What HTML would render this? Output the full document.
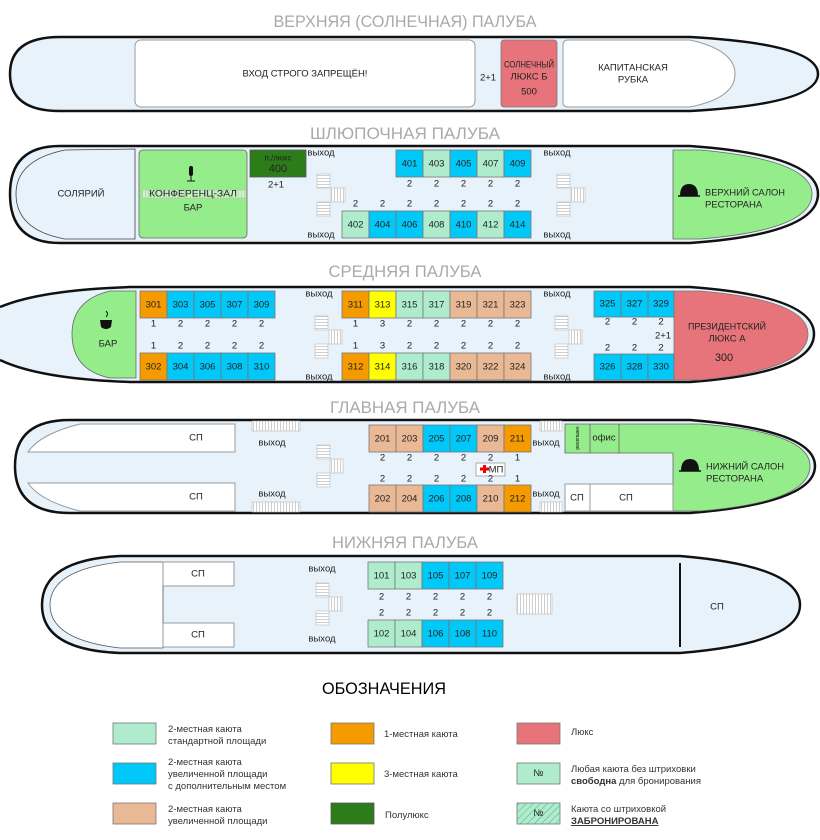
<!DOCTYPE html>
<html><head><meta charset="utf-8"><style>
body{margin:0;background:#fff;}
svg{display:block;font-family:"Liberation Sans Narrow","Liberation Sans",sans-serif;}
.t{font-size:17px;fill:#aaa;text-anchor:middle;}
.c{font-size:9.5px;text-anchor:middle;dominant-baseline:central;fill:#222;}
.n{font-size:9.5px;text-anchor:middle;dominant-baseline:central;fill:#222;}
.l{font-size:9.5px;fill:#333;}
.hull{fill:#e8f2fb;stroke:#111;stroke-width:2.5;}
.w{fill:#fff;stroke:#999;stroke-width:1;}
.m{fill:#aeeccd;stroke:#777;stroke-width:.8;}
.b{fill:#00c8f8;stroke:#777;stroke-width:.8;}
.o{fill:#f59b00;stroke:#777;stroke-width:.8;}
.y{fill:#ffff00;stroke:#777;stroke-width:.8;}
.k{fill:#e9b996;stroke:#777;stroke-width:.8;}
.g{fill:#95ec8a;stroke:#666;stroke-width:.8;}
.r{fill:#e7747a;stroke:#777;stroke-width:.8;}
.dg{fill:#2c7d1a;stroke:#555;stroke-width:.8;}
.sh{fill:url(#sh);stroke:#bbb;stroke-width:.6;}
.sv{fill:url(#sv);stroke:#bbb;stroke-width:.6;}
</style></head><body>
<svg width="820" height="840" viewBox="0 0 820 840">
<defs>
<pattern id="sh" width="4" height="3" patternUnits="userSpaceOnUse"><rect width="4" height="3" fill="#fff"/><line x1="0" y1="1.5" x2="4" y2="1.5" stroke="#bbb" stroke-width=".7"/></pattern>
<pattern id="sv" width="3" height="4" patternUnits="userSpaceOnUse"><rect width="3" height="4" fill="#fff"/><line x1="1.5" y1="0" x2="1.5" y2="4" stroke="#bbb" stroke-width=".7"/></pattern>
<pattern id="hatch" width="5" height="5" patternUnits="userSpaceOnUse" patternTransform="rotate(45)"><rect width="5" height="5" fill="#aeeccd"/><line x1="0" y1="0" x2="0" y2="5" stroke="#5a8" stroke-width="1"/></pattern>
</defs>

<!-- DECK 1 -->
<text class="t" x="405" y="27" textLength="263" lengthAdjust="spacingAndGlyphs">ВЕРХНЯЯ (СОЛНЕЧНАЯ) ПАЛУБА</text>
<path class="hull" d="M60 37 L690 37 Q818 44 818 74 Q818 104 690 111 L60 111 Q10 111 10 74 Q10 37 60 37 Z"/>
<rect class="w" x="135" y="40" width="340" height="67" rx="6"/>
<text class="c" x="305" y="74">ВХОД СТРОГО ЗАПРЕЩЁН!</text>
<text class="c" x="488" y="78">2+1</text>
<rect class="r" x="501" y="40" width="56" height="67" rx="3"/>
<text class="c" x="529" y="65" textLength="50" lengthAdjust="spacingAndGlyphs">СОЛНЕЧНЫЙ</text><text class="c" x="529" y="77">ЛЮКС Б</text><text class="c" x="529" y="92">500</text>
<path class="w" d="M568 40 L690 40 Q735 50 735 74 Q735 98 690 107 L568 107 Q563 107 563 102 L563 45 Q563 40 568 40 Z"/>
<text class="c" x="633" y="68">КАПИТАНСКАЯ</text><text class="c" x="633" y="80">РУБКА</text>

<!-- DECK 2 -->
<text class="t" x="405" y="139" textLength="190" lengthAdjust="spacingAndGlyphs">ШЛЮПОЧНАЯ ПАЛУБА</text>
<path class="hull" d="M60 146 L690 146 Q818 155 818 194 Q818 234 690 243 L60 243 Q10 243 10 194 Q10 146 60 146 Z"/>
<path d="M135 149 L65 150 Q16 160 16 194 Q16 230 65 239 L135 239 Z" fill="#e8f2fb" stroke="#444" stroke-width=".8"/>
<text class="c" x="81" y="194">СОЛЯРИЙ</text>
<rect class="g" x="139" y="150" width="108" height="88" rx="4" stroke="#444"/>
<rect x="189" y="166" width="4" height="10" rx="2" fill="#111"/><line x1="191" y1="176" x2="191" y2="181" stroke="#111"/><line x1="187" y1="181" x2="195" y2="181" stroke="#111"/>
<rect class="sv" x="142" y="190" width="104" height="8" style="fill-opacity:.5"/>
<text class="c" x="193" y="194" textLength="88" lengthAdjust="spacingAndGlyphs">КОНФЕРЕНЦ-ЗАЛ</text><text class="c" x="193" y="208">БАР</text>
<rect class="dg" x="250" y="150" width="56" height="27"/>
<text class="c" x="278" y="158" style="font-size:8px">п./люкс</text><text class="c" x="278" y="169" style="font-size:11px">400</text>
<text class="n" x="276" y="185">2+1</text>
<text class="n" x="321" y="153">выход</text><text class="n" x="321" y="235">выход</text>
<text class="n" x="557" y="153">выход</text><text class="n" x="557" y="235">выход</text>
<rect class="sh" x="317" y="174" width="13" height="14"/><rect class="sv" x="331" y="188" width="14" height="14"/><rect class="sh" x="317" y="202" width="13" height="14"/>
<rect class="sh" x="557" y="174" width="13" height="14"/><rect class="sv" x="571" y="188" width="14" height="14"/><rect class="sh" x="557" y="202" width="13" height="14"/>
<rect class="b" x="396" y="150" width="27" height="27"/><rect class="m" x="423" y="150" width="27" height="27"/><rect class="b" x="450" y="150" width="27" height="27"/><rect class="m" x="477" y="150" width="27" height="27"/><rect class="b" x="504" y="150" width="27" height="27"/>
<text class="c" x="409.5" y="164">401</text><text class="c" x="436.5" y="164">403</text><text class="c" x="463.5" y="164">405</text><text class="c" x="490.5" y="164">407</text><text class="c" x="517.5" y="164">409</text>
<text class="n" x="409.5" y="184">2</text><text class="n" x="436.5" y="184">2</text><text class="n" x="463.5" y="184">2</text><text class="n" x="490.5" y="184">2</text><text class="n" x="517.5" y="184">2</text>
<rect class="m" x="342" y="211" width="27" height="27"/><rect class="b" x="369" y="211" width="27" height="27"/><rect class="b" x="396" y="211" width="27" height="27"/><rect class="m" x="423" y="211" width="27" height="27"/><rect class="b" x="450" y="211" width="27" height="27"/><rect class="m" x="477" y="211" width="27" height="27"/><rect class="b" x="504" y="211" width="27" height="27"/>
<text class="c" x="355.5" y="225">402</text><text class="c" x="382.5" y="225">404</text><text class="c" x="409.5" y="225">406</text><text class="c" x="436.5" y="225">408</text><text class="c" x="463.5" y="225">410</text><text class="c" x="490.5" y="225">412</text><text class="c" x="517.5" y="225">414</text>
<text class="n" x="355.5" y="204">2</text><text class="n" x="382.5" y="204">2</text><text class="n" x="409.5" y="204">2</text><text class="n" x="436.5" y="204">2</text><text class="n" x="463.5" y="204">2</text><text class="n" x="490.5" y="204">2</text><text class="n" x="517.5" y="204">2</text>
<path class="g" d="M673 150 L700 150 Q812 160 812 194 Q812 230 700 239 L673 239 Z" stroke="#444"/>
<path d="M680 196 Q680 184 689 184 Q698 184 698 196 Z" fill="#111"/><line x1="678" y1="196" x2="700" y2="196" stroke="#111" stroke-width="1.5"/>
<text class="c" x="705" y="193" style="text-anchor:start" textLength="80" lengthAdjust="spacingAndGlyphs">ВЕРХНИЙ САЛОН</text><text class="c" x="705" y="205" style="text-anchor:start">РЕСТОРАНА</text>

<!-- DECK 3 -->
<text class="t" x="405" y="277" textLength="153" lengthAdjust="spacingAndGlyphs">СРЕДНЯЯ ПАЛУБА</text>
<path class="hull" d="M0 307 Q40 290 130 287 L690 287 Q814 296 814 334 Q814 373 690 382 L130 382 Q40 379 0 360"/>
<path class="g" d="M136 291 L110 291 Q72 300 72 334 Q72 370 110 378 L136 378 Z"/>
<path d="M100 320 L112 320 L111 327 Q106 331 101 327 Z" fill="#111"/><path d="M106 311 q3 3 0 6" stroke="#111" fill="none"/>
<text class="c" x="108" y="344">БАР</text>
<rect class="o" x="140" y="291" width="27" height="27"/><rect class="b" x="167" y="291" width="27" height="27"/><rect class="b" x="194" y="291" width="27" height="27"/><rect class="b" x="221" y="291" width="27" height="27"/><rect class="b" x="248" y="291" width="27" height="27"/>
<text class="c" x="153.5" y="305">301</text><text class="c" x="180.5" y="305">303</text><text class="c" x="207.5" y="305">305</text><text class="c" x="234.5" y="305">307</text><text class="c" x="261.5" y="305">309</text>
<text class="n" x="153.5" y="324">1</text><text class="n" x="180.5" y="324">2</text><text class="n" x="207.5" y="324">2</text><text class="n" x="234.5" y="324">2</text><text class="n" x="261.5" y="324">2</text>
<text class="n" x="153.5" y="346">1</text><text class="n" x="180.5" y="346">2</text><text class="n" x="207.5" y="346">2</text><text class="n" x="234.5" y="346">2</text><text class="n" x="261.5" y="346">2</text>
<rect class="o" x="140" y="353" width="27" height="27"/><rect class="b" x="167" y="353" width="27" height="27"/><rect class="b" x="194" y="353" width="27" height="27"/><rect class="b" x="221" y="353" width="27" height="27"/><rect class="b" x="248" y="353" width="27" height="27"/>
<text class="c" x="153.5" y="367">302</text><text class="c" x="180.5" y="367">304</text><text class="c" x="207.5" y="367">306</text><text class="c" x="234.5" y="367">308</text><text class="c" x="261.5" y="367">310</text>
<text class="n" x="319" y="294">выход</text><text class="n" x="319" y="377">выход</text>
<text class="n" x="557" y="294">выход</text><text class="n" x="557" y="377">выход</text>
<rect class="sh" x="315" y="316" width="13" height="14"/><rect class="sv" x="329" y="330" width="13" height="14"/><rect class="sh" x="315" y="344" width="13" height="14"/>
<rect class="sh" x="555" y="316" width="13" height="14"/><rect class="sv" x="569" y="330" width="13" height="14"/><rect class="sh" x="555" y="344" width="13" height="14"/>
<rect class="o" x="342" y="291" width="27" height="27"/><rect class="y" x="369" y="291" width="27" height="27"/><rect class="m" x="396" y="291" width="27" height="27"/><rect class="m" x="423" y="291" width="27" height="27"/><rect class="k" x="450" y="291" width="27" height="27"/><rect class="k" x="477" y="291" width="27" height="27"/><rect class="k" x="504" y="291" width="27" height="27"/>
<text class="c" x="355.5" y="305">311</text><text class="c" x="382.5" y="305">313</text><text class="c" x="409.5" y="305">315</text><text class="c" x="436.5" y="305">317</text><text class="c" x="463.5" y="305">319</text><text class="c" x="490.5" y="305">321</text><text class="c" x="517.5" y="305">323</text>
<text class="n" x="355.5" y="324">1</text><text class="n" x="382.5" y="324">3</text><text class="n" x="409.5" y="324">2</text><text class="n" x="436.5" y="324">2</text><text class="n" x="463.5" y="324">2</text><text class="n" x="490.5" y="324">2</text><text class="n" x="517.5" y="324">2</text>
<text class="n" x="355.5" y="346">1</text><text class="n" x="382.5" y="346">3</text><text class="n" x="409.5" y="346">2</text><text class="n" x="436.5" y="346">2</text><text class="n" x="463.5" y="346">2</text><text class="n" x="490.5" y="346">2</text><text class="n" x="517.5" y="346">2</text>
<rect class="o" x="342" y="353" width="27" height="27"/><rect class="y" x="369" y="353" width="27" height="27"/><rect class="m" x="396" y="353" width="27" height="27"/><rect class="m" x="423" y="353" width="27" height="27"/><rect class="k" x="450" y="353" width="27" height="27"/><rect class="k" x="477" y="353" width="27" height="27"/><rect class="k" x="504" y="353" width="27" height="27"/>
<text class="c" x="355.5" y="367">312</text><text class="c" x="382.5" y="367">314</text><text class="c" x="409.5" y="367">316</text><text class="c" x="436.5" y="367">318</text><text class="c" x="463.5" y="367">320</text><text class="c" x="490.5" y="367">322</text><text class="c" x="517.5" y="367">324</text>
<rect class="b" x="594" y="291" width="27" height="26"/><rect class="b" x="621" y="291" width="27" height="26"/><rect class="b" x="648" y="291" width="26" height="26"/>
<text class="c" x="607.5" y="304">325</text><text class="c" x="634.5" y="304">327</text><text class="c" x="661" y="304">329</text>
<text class="n" x="607.5" y="322">2</text><text class="n" x="634.5" y="322">2</text><text class="n" x="661" y="322">2</text>
<text class="n" x="663" y="336">2+1</text>
<text class="n" x="607.5" y="348">2</text><text class="n" x="634.5" y="348">2</text><text class="n" x="661" y="348">2</text>
<rect class="b" x="594" y="354" width="27" height="26"/><rect class="b" x="621" y="354" width="27" height="26"/><rect class="b" x="648" y="354" width="26" height="26"/>
<text class="c" x="607.5" y="367">326</text><text class="c" x="634.5" y="367">328</text><text class="c" x="661" y="367">330</text>
<path class="r" d="M674 291 L700 291 Q808 300 808 334 Q808 370 700 380 L674 380 Z"/>
<text class="c" x="727" y="327" textLength="78" lengthAdjust="spacingAndGlyphs">ПРЕЗИДЕНТСКИЙ</text><text class="c" x="727" y="339">ЛЮКС А</text><text class="c" x="724" y="358" style="font-size:11px">300</text>

<!-- DECK 4 -->
<text class="t" x="405" y="413" textLength="150" lengthAdjust="spacingAndGlyphs">ГЛАВНАЯ ПАЛУБА</text>
<path class="hull" d="M70 420 L690 420 Q815 430 815 466 Q815 503 690 513 L70 513 Q15 513 15 466 Q15 420 70 420 Z"/>
<path class="w" d="M235 424 L80 424 Q40 434 28 452 L235 452 Z"/>
<path class="w" d="M235 483 L28 483 Q40 501 80 511 L235 511 Z"/>
<text class="c" x="196" y="438">СП</text><text class="c" x="196" y="497">СП</text>
<rect class="sv" x="252" y="421" width="48" height="10"/><rect class="sv" x="252" y="502" width="48" height="10"/>
<rect class="sv" x="540" y="421" width="22" height="10"/><rect class="sv" x="540" y="502" width="22" height="10"/>
<text class="n" x="272" y="443">выход</text><text class="n" x="272" y="494">выход</text>
<text class="n" x="546" y="443">выход</text><text class="n" x="546" y="494">выход</text>
<rect class="sh" x="317" y="445" width="13" height="14"/><rect class="sv" x="330" y="459" width="13" height="14"/><rect class="sh" x="317" y="473" width="13" height="14"/>
<rect class="k" x="369" y="425" width="27" height="27"/><rect class="k" x="396" y="425" width="27" height="27"/><rect class="b" x="423" y="425" width="27" height="27"/><rect class="b" x="450" y="425" width="27" height="27"/><rect class="k" x="477" y="425" width="27" height="27"/><rect class="o" x="504" y="425" width="27" height="27"/>
<text class="c" x="382.5" y="439">201</text><text class="c" x="409.5" y="439">203</text><text class="c" x="436.5" y="439">205</text><text class="c" x="463.5" y="439">207</text><text class="c" x="490.5" y="439">209</text><text class="c" x="517.5" y="439">211</text>
<text class="n" x="382.5" y="458">2</text><text class="n" x="409.5" y="458">2</text><text class="n" x="436.5" y="458">2</text><text class="n" x="463.5" y="458">2</text><text class="n" x="490.5" y="458">2</text><text class="n" x="517.5" y="458">1</text>
<rect x="476" y="463" width="29" height="13" fill="#fff" stroke="#999" stroke-width=".8"/>
<path d="M480 467.5 h3 v-2.5 h3 v2.5 h3 v3 h-3 v2.5 h-3 v-2.5 h-3z" fill="#e00"/>
<text class="c" x="496" y="470">МП</text>
<text class="n" x="382.5" y="479">2</text><text class="n" x="409.5" y="479">2</text><text class="n" x="436.5" y="479">2</text><text class="n" x="463.5" y="479">2</text><text class="n" x="490.5" y="479">2</text><text class="n" x="517.5" y="479">1</text>
<rect class="k" x="369" y="485" width="27" height="27"/><rect class="k" x="396" y="485" width="27" height="27"/><rect class="b" x="423" y="485" width="27" height="27"/><rect class="b" x="450" y="485" width="27" height="27"/><rect class="k" x="477" y="485" width="27" height="27"/><rect class="o" x="504" y="485" width="27" height="27"/>
<text class="c" x="382.5" y="499">202</text><text class="c" x="409.5" y="499">204</text><text class="c" x="436.5" y="499">206</text><text class="c" x="463.5" y="499">208</text><text class="c" x="490.5" y="499">210</text><text class="c" x="517.5" y="499">212</text>
<path class="g" d="M565 424 L700 424 Q810 432 810 466 Q810 502 700 511 L673 511 L673 453 L565 453 Z"/>
<line x1="590" y1="424" x2="590" y2="453" stroke="#666" stroke-width=".8"/><line x1="619" y1="424" x2="619" y2="453" stroke="#666" stroke-width=".8"/>
<text x="578" y="438" transform="rotate(-90 578 438)" style="font-size:5px" text-anchor="middle" dominant-baseline="central">ресепшен</text>
<text class="c" x="604" y="438">офис</text>
<path d="M681 471 Q681 459 690 459 Q699 459 699 471 Z" fill="#111"/><line x1="679" y1="471" x2="701" y2="471" stroke="#111" stroke-width="1.5"/>
<text class="c" x="706" y="467" style="text-anchor:start" textLength="78" lengthAdjust="spacingAndGlyphs">НИЖНИЙ САЛОН</text><text class="c" x="706" y="479" style="text-anchor:start">РЕСТОРАНА</text>
<rect class="w" x="565" y="484" width="25" height="27"/><rect class="w" x="590" y="484" width="83" height="27"/>
<text class="c" x="577" y="498">СП</text><text class="c" x="626" y="498">СП</text>

<!-- DECK 5 -->
<text class="t" x="405" y="548" textLength="146" lengthAdjust="spacingAndGlyphs">НИЖНЯЯ ПАЛУБА</text>
<path class="hull" d="M120 556 L680 556 Q800 566 800 605 Q800 643 680 653 L120 653 Q42 650 42 605 Q42 560 120 556 Z"/>
<path d="M163 562 L120 562 Q50 570 50 605 Q50 640 120 648 L163 648 Z" fill="#fff" stroke="#555" stroke-width=".8"/>
<rect class="w" x="163" y="562" width="71" height="24"/><rect class="w" x="163" y="623" width="71" height="24"/>
<text class="c" x="198" y="574">СП</text><text class="c" x="198" y="635">СП</text>
<text class="n" x="322" y="569">выход</text><text class="n" x="322" y="639">выход</text>
<rect class="sh" x="316" y="583" width="13" height="14"/><rect class="sv" x="329" y="597" width="13" height="14"/><rect class="sh" x="316" y="611" width="13" height="14"/>
<rect class="sv" x="517" y="594" width="35" height="20"/>
<rect class="m" x="368" y="562" width="27" height="27"/><rect class="m" x="395" y="562" width="27" height="27"/><rect class="b" x="422" y="562" width="27" height="27"/><rect class="b" x="449" y="562" width="27" height="27"/><rect class="b" x="476" y="562" width="27" height="27"/>
<text class="c" x="381.5" y="576">101</text><text class="c" x="408.5" y="576">103</text><text class="c" x="435.5" y="576">105</text><text class="c" x="462.5" y="576">107</text><text class="c" x="489.5" y="576">109</text>
<text class="n" x="381.5" y="597">2</text><text class="n" x="408.5" y="597">2</text><text class="n" x="435.5" y="597">2</text><text class="n" x="462.5" y="597">2</text><text class="n" x="489.5" y="597">2</text>
<text class="n" x="381.5" y="613">2</text><text class="n" x="408.5" y="613">2</text><text class="n" x="435.5" y="613">2</text><text class="n" x="462.5" y="613">2</text><text class="n" x="489.5" y="613">2</text>
<rect class="m" x="368" y="620" width="27" height="27"/><rect class="m" x="395" y="620" width="27" height="27"/><rect class="b" x="422" y="620" width="27" height="27"/><rect class="b" x="449" y="620" width="27" height="27"/><rect class="b" x="476" y="620" width="27" height="27"/>
<text class="c" x="381.5" y="634">102</text><text class="c" x="408.5" y="634">104</text><text class="c" x="435.5" y="634">106</text><text class="c" x="462.5" y="634">108</text><text class="c" x="489.5" y="634">110</text>
<line x1="680" y1="563" x2="680" y2="647" stroke="#111" stroke-width="2"/>
<text class="c" x="717" y="607">СП</text>

<!-- LEGEND -->
<text x="384" y="694" style="font-size:17px" text-anchor="middle" textLength="124" lengthAdjust="spacingAndGlyphs">ОБОЗНАЧЕНИЯ</text>
<rect class="m" x="113" y="723" width="43" height="21"/>
<text class="l" x="168" y="732">2-местная каюта</text><text class="l" x="168" y="744">стандартной площади</text>
<rect class="b" x="113" y="763" width="43" height="21"/>
<text class="l" x="168" y="765">2-местная каюта</text><text class="l" x="168" y="777">увеличенной площади</text><text class="l" x="168" y="789">с дополнительным местом</text>
<rect class="k" x="113" y="803" width="43" height="21"/>
<text class="l" x="168" y="812">2-местная каюта</text><text class="l" x="168" y="824">увеличенной площади</text>
<rect class="o" x="331" y="723" width="43" height="21"/><text class="l" x="384" y="737">1-местная каюта</text>
<rect class="y" x="331" y="763" width="43" height="21"/><text class="l" x="384" y="777">3-местная каюта</text>
<rect class="dg" x="331" y="803" width="43" height="21"/><text class="l" x="385" y="818">Полулюкс</text>
<rect class="r" x="517" y="723" width="43" height="21"/><text class="l" x="571" y="735">Люкс</text>
<rect class="m" x="517" y="763" width="43" height="21"/><text class="c" x="538.5" y="773.5">№</text>
<text class="l" x="571" y="772">Любая каюта без штриховки</text><text class="l" x="571" y="784"><tspan font-weight="bold">свободна</tspan> для бронирования</text>
<rect x="517" y="803" width="43" height="21" fill="url(#hatch)" stroke="#777" stroke-width=".8"/><text class="c" x="538.5" y="813.5">№</text>
<text class="l" x="571" y="812">Каюта со штриховкой</text><text class="l" x="571" y="824" font-weight="bold" text-decoration="underline">ЗАБРОНИРОВАНА</text>
</svg>
</body></html>
